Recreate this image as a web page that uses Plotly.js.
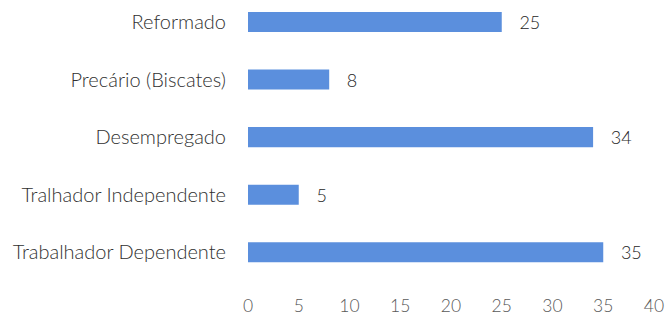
<!DOCTYPE html>
<html>
<head>
<meta charset="utf-8">
<script src="https://cdn.plot.ly/plotly-3.0.1.min.js"></script>
<style>html,body{margin:0;padding:0;background:#fff;}#chart{width:668px;height:315px;}</style>
</head>
<body>
<div id="chart"></div>
<script>
const categories = ["Trabalhador Dependente", "Tralhador Independente", "Desempregado", "Precário (Biscates)", "Reformado"];
const values = [35, 5, 34, 8, 25];
const tickValues = [0, 5, 10, 15, 20, 25, 30, 35, 40];

const NB = "\u00A0";
const trace = {
  type: "bar",
  orientation: "h",
  y: categories,
  x: values,
  marker: {color: "#5b8fdd"},
  text: values.map(v => NB + NB + NB + v),
  textposition: "outside",
  constraintext: "none",
  cliponaxis: false,
  textfont: {family: "Lato, 'Open Sans', sans-serif", size: 18, color: "#262626", weight: 300},
  hoverinfo: "none"
};

const layout = {
  width: 668,
  height: 315,
  margin: {l: 248, r: 14, t: 0, b: 34},
  paper_bgcolor: "#ffffff",
  plot_bgcolor: "#ffffff",
  showlegend: false,
  bargap: 0.652,
  font: {family: "Lato, 'Open Sans', sans-serif", color: "#404040"},
  xaxis: {
    range: [0, 40],
    tickvals: tickValues,
    ticktext: tickValues.map(String),
    showgrid: false,
    zeroline: false,
    showline: false,
    ticks: "",
    ticklabelstandoff: 12,
    tickfont: {size: 17.5, color: "#595959", weight: 300}
  },
  yaxis: {
    type: "category",
    categoryorder: "array",
    categoryarray: categories,
    range: [-0.5, 4.383],
    showgrid: false,
    zeroline: false,
    showline: false,
    ticks: "",
    ticklabelstandoff: 21,
    tickfont: {size: 20, color: "#303030", weight: 300}
  }
};

Plotly.newPlot("chart", [trace], layout, {displayModeBar: false, staticPlot: true});
</script>
</body>
</html>
